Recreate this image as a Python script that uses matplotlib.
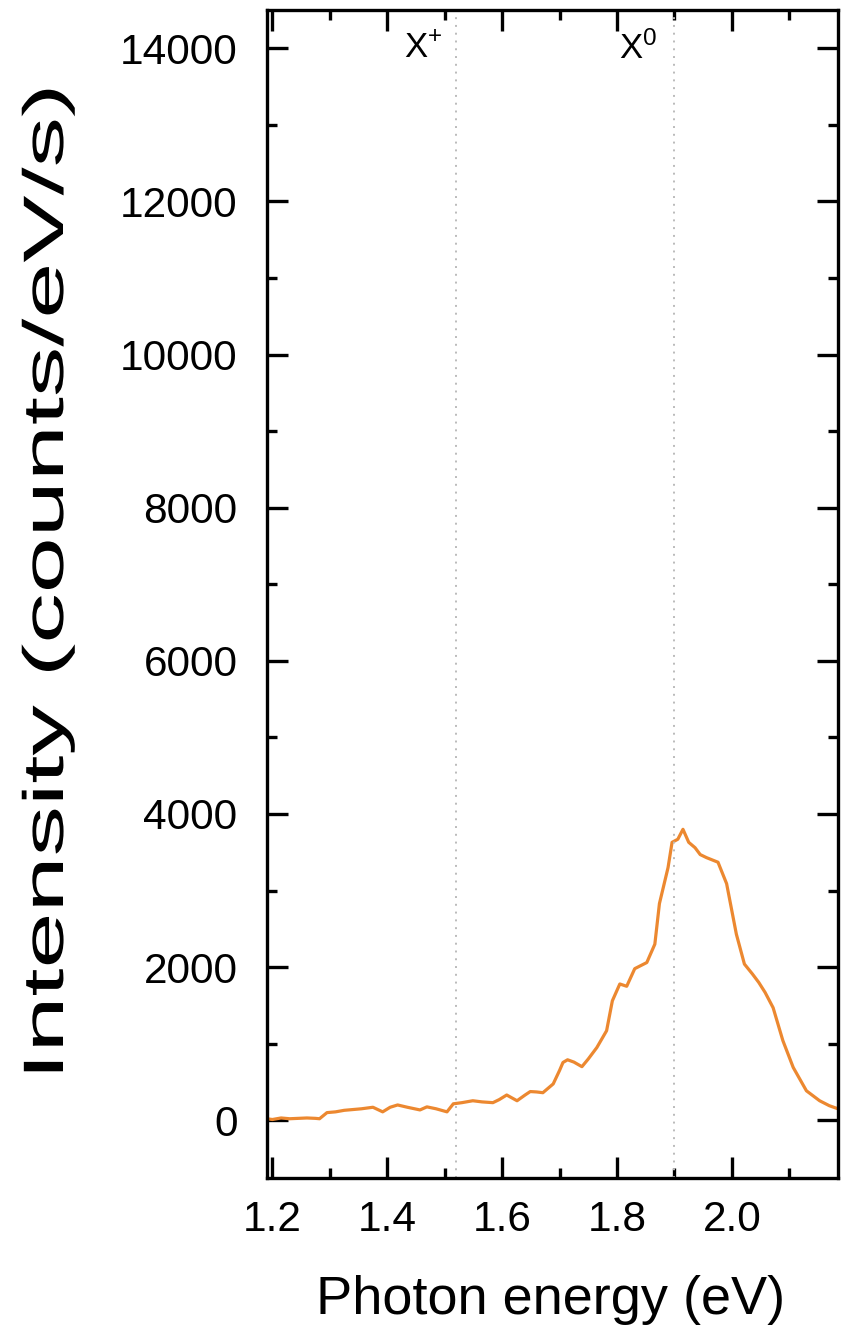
import matplotlib
matplotlib.use("Agg")
import matplotlib.pyplot as plt
from matplotlib.ticker import MultipleLocator
from matplotlib.patheffects import AbstractPathEffect
from matplotlib.transforms import Affine2D

plt.rcParams['font.family'] = ['Liberation Sans', 'DejaVu Sans']
plt.rcParams['mathtext.fontset'] = 'custom'
plt.rcParams['mathtext.rm'] = 'Liberation Sans'
plt.rcParams['mathtext.it'] = 'Liberation Sans'

# Photon energy (eV) and intensity (counts/eV/s)
energy = [1.190, 1.200, 1.215, 1.230, 1.245, 1.260, 1.275, 1.282, 1.295, 1.310,
          1.325, 1.340, 1.355, 1.375, 1.392, 1.405, 1.418, 1.435, 1.457, 1.469,
          1.485, 1.504, 1.515, 1.530, 1.549, 1.565, 1.584, 1.595, 1.608, 1.626,
          1.640, 1.649, 1.660, 1.671, 1.689, 1.700, 1.706, 1.714, 1.725, 1.739,
          1.750, 1.765, 1.782, 1.792, 1.805, 1.817, 1.831, 1.852, 1.866, 1.874,
          1.889, 1.896, 1.906, 1.915, 1.925, 1.936, 1.945, 1.956, 1.966, 1.976,
          1.991, 2.008, 2.022, 2.036, 2.047, 2.058, 2.072, 2.089, 2.107, 2.130,
          2.153, 2.170, 2.185]
intensity = [20, 10, 30, 20, 25, 30, 25, 20, 100, 110,
             130, 140, 150, 170, 110, 170, 200, 170, 135, 175,
             150, 110, 215, 230, 255, 240, 230, 270, 330, 255,
             330, 375, 370, 360, 475, 650, 755, 790, 760, 700,
             800, 950, 1170, 1560, 1780, 1750, 1980, 2060, 2300, 2830,
             3300, 3630, 3670, 3800, 3630, 3560, 3470, 3430, 3400, 3370,
             3090, 2430, 2040, 1910, 1800, 1670, 1470, 1040, 690, 385,
             255, 190, 150]

peak_positions = [1.52, 1.90]
peak_labels = [r'$\mathregular{X^{+}}$', r'$\mathregular{X^{0}}$']
label_positions = [1.462, 1.837]

W, H, DPI = 841, 1327, 100


class Stretch(AbstractPathEffect):
    """Stretch a text about a fixed display point (the label is drawn elongated)."""
    def __init__(self, cx, cy, sx, sy):
        super().__init__()
        self.cx, self.cy, self.sx, self.sy = cx, cy, sx, sy

    def draw_path(self, renderer, gc, tpath, affine, rgbFace=None):
        t = affine + Affine2D().translate(-self.cx, -self.cy).scale(
            self.sx, self.sy).translate(self.cx, self.cy)
        renderer.draw_path(gc, tpath, t, rgbFace)


fig = plt.figure(figsize=(W / DPI, H / DPI), dpi=DPI)
ax_l, ax_b, ax_w, ax_h = 266.7 / W, 1 - 1177.7 / H, (838 - 266.7) / W, (1177.7 - 10) / H
ax = fig.add_axes([ax_l, ax_b, ax_w, ax_h])

ax.plot(energy, intensity, color='#EC8830', lw=2.3)

for xp in peak_positions:
    ax.axvline(xp, color='#BBBBBB', lw=1.4, ls=(0, (1, 3)))
for xl, lab in zip(label_positions, peak_labels):
    ax.text(xl, 14000, lab, ha='center', va='center', fontsize=25)

ax.set_xlim(1.19, 2.185)
ax.set_ylim(-750, 14500)
ax.xaxis.set_major_locator(MultipleLocator(0.2))
ax.xaxis.set_minor_locator(MultipleLocator(0.1))
ax.yaxis.set_major_locator(MultipleLocator(2000))
ax.yaxis.set_minor_locator(MultipleLocator(1000))
ax.xaxis.set_major_formatter(plt.FuncFormatter(lambda v, p: f'{v:.1f}'))

ax.tick_params(which='both', direction='in', top=True, right=True, width=2.4)
ax.tick_params(which='major', length=15)
ax.tick_params(which='minor', length=7.5)
ax.tick_params(axis='y', labelsize=30.5, pad=21)
ax.tick_params(axis='x', labelsize=30.5, pad=16)
for s in ax.spines.values():
    s.set_linewidth(2.4)

ax.set_xlabel('Photon energy (eV)', fontsize=39)
ax.xaxis.label.set_verticalalignment('center')
ax.xaxis.set_label_coords(0.496, -0.105)

# y label: centre at (48, 582) px from top-left; drawn elongated along its length
ylab_cx, ylab_cy = 48, 582
ax.set_ylabel('Intensity (counts/eV/s)', fontsize=41)
ax.yaxis.label.set_verticalalignment('center')
ax.yaxis.label.set_horizontalalignment('center')
ax.yaxis.set_label_coords((ylab_cx - 266.7) / (838 - 266.7),
                          (1177.7 - ylab_cy) / (1177.7 - 10))
ax.yaxis.label.set_path_effects([Stretch(ylab_cx, H - ylab_cy, 1.0, 1.77)])

fig.savefig('out.png', dpi=DPI)
